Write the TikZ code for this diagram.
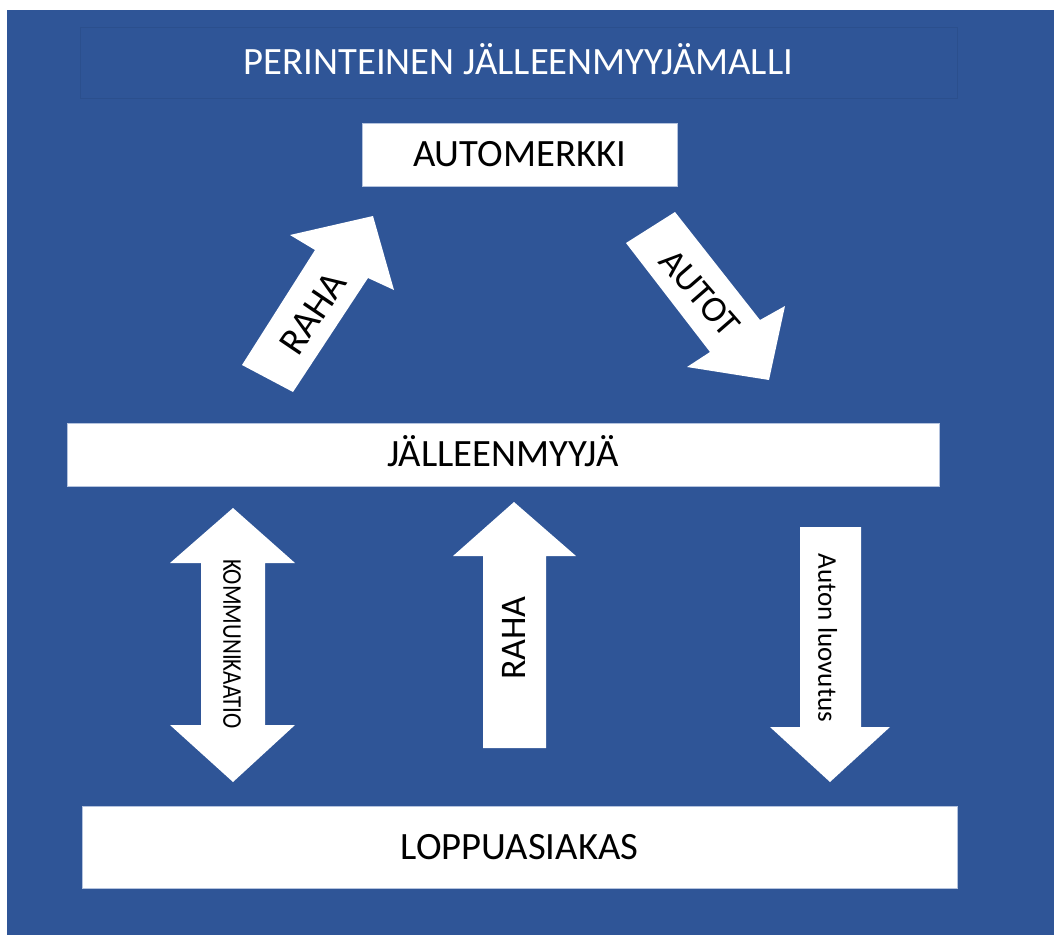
\documentclass[tikz,border=0pt]{standalone}
\usepackage{fontspec}
\setmainfont{Carlito}
\definecolor{bgblue}{HTML}{2F5597}
\definecolor{titleedge}{HTML}{2B4F8D}
\definecolor{boxedge}{HTML}{B4C3DE}
\begin{document}
\begin{tikzpicture}[x=0.75pt,y=-0.75pt,
  big/.style={font=\fontsize{29}{31}\selectfont, text height=18.7pt, text depth=0pt},
  box/.style={big, fill=white, draw=boxedge, line width=0.6pt, inner sep=0pt},
  blockarrow/.style={fill=white},
  label/.style={inner sep=0pt}]
\useasboundingbox (0,0) rectangle (1054,935);
% background panel
\fill[bgblue] (7,10) rectangle (1054,935);

% title
\node (title) [big, draw=titleedge, line width=0.6pt, inner sep=0pt,
  minimum width={877*0.75pt}, minimum height={71*0.75pt},
  text=white] at (518.5,62.5) {PERINTEINEN JÄLLEENMYYJÄMALLI};

% boxes
\node (merkki) [box, minimum width={315*0.75pt}, minimum height={63*0.75pt}] at (519.5,154.5) {AUTOMERKKI};
\node (myyja) [box, minimum width={872*0.75pt}, minimum height={63*0.75pt}] at (503,454.5) {JÄLLEENMYYJÄ};
\node (asiakas) [box, minimum width={875*0.75pt}, minimum height={82*0.75pt}] at (519.5,847) {LOPPUASIAKAS};

% diagonal arrow: money to the car brand
\fill[blockarrow] (242,365) -- (315,250) -- (290,235) -- (373,216) -- (394,290) -- (368,278) -- (293,392) -- cycle;
\node (raha1) [label, big, rotate=56] at (313,313) {RAHA};

% diagonal arrow: cars to the dealer
\fill[blockarrow] (626,243) -- (675,212) -- (760,320) -- (785,306) -- (769,380) -- (687,367) -- (710,352) -- cycle;
\node (autot) [label, rotate=-49, font=\fontsize{27.5}{29}\selectfont, text height=17.7pt, text depth=0pt] at (700,293) {AUTOT};

% double arrow: communication
\fill[blockarrow] (233,508) -- (295,563) -- (265,563) -- (265,725) -- (295,725) -- (233,782)
  -- (170,725) -- (201,725) -- (201,563) -- (170,563) -- cycle;
\node (komm) [label, rotate=-90, font=\fontsize{20.3}{22}\selectfont, text height=13.1pt, text depth=0pt] at (232,644) {\scalebox{0.85}[1]{KOMMUNIKAATIO}};

% up arrow: money to the dealer
\fill[blockarrow] (514,502) -- (576,556) -- (546,556) -- (546,748) -- (483,748) -- (483,556) -- (453,556) -- cycle;
\node (raha2) [label, rotate=90, font=\fontsize{27}{29}\selectfont, text height=17.4pt, text depth=0pt] at (514,638) {RAHA};

% down arrow: handover of the car
\fill[blockarrow] (800,527) -- (861,527) -- (861,727) -- (890,727) -- (830,782) -- (770,727) -- (800,727) -- cycle;
\node (luovutus) [label, rotate=-90, font=\fontsize{20.3}{22}\selectfont, text height=13.1pt, text depth=0pt] at (827,638) {Auton luovutus};
\end{tikzpicture}
\end{document}
